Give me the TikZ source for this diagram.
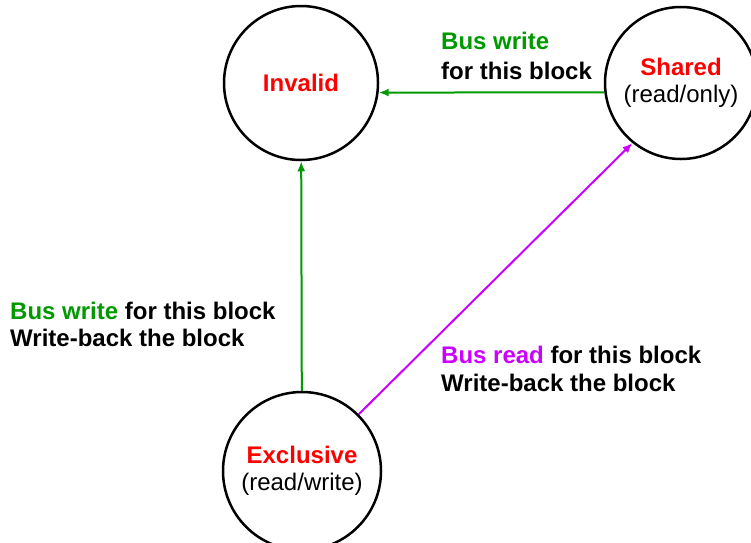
\documentclass[tikz,border=0pt]{standalone}
\usepackage{fontspec}
\setmainfont{Liberation Sans}
\usetikzlibrary{positioning, arrows.meta}

\definecolor{buswrite}{HTML}{009900}
\definecolor{busread}{HTML}{CC00FF}

\begin{document}
\begin{tikzpicture}[
        x = 1pt, y = -1pt,
        state/.style      = {draw, circle, line width=2.5pt, inner sep=0pt, align=center},
        trans/.style      = {line width=2pt, -{Latex[length=10pt, width=8pt]}},
        translabel/.style = {anchor=north west, inner sep=0pt, align=left,
                             font=\fontsize{24}{#1}\selectfont\bfseries},
        translabel/.default = 27,
        every node/.style = {font=\fontsize{24}{27}\selectfont},
    ]
    \useasboundingbox (0,0) rectangle (751,542);

    % states
    \node [state, minimum size=154pt] (invalid) at (301,83)
        {\textcolor{red}{\bfseries Invalid}};
    \node [state, minimum size=152pt] (shared) at (681,83)
        {\textcolor{red}{\bfseries Shared}\\(read/only)};
    \node [state, minimum size=158pt] (exclusive) at (302,471)
        {\textcolor{red}{\bfseries Exclusive}\\(read/write)};

    % transitions
    \draw [trans, buswrite] (shared.187) -- (invalid.-7);
    \draw [trans, buswrite] (exclusive) -- (invalid);
    \draw [trans, busread] (exclusive.45) -- (shared.231);

    % labels
    \node [translabel=30] (lblshared) at (441,32)
        {\textcolor{buswrite}{Bus write}\\for this block};
    \node [translabel] (lblexcl) at (10,302)
        {\textcolor{buswrite}{Bus write} for this block\\Write-back the block};
    \node [translabel=28] (lblread) at (441,346)
        {\textcolor{busread}{Bus read} for this block\\Write-back the block};
\end{tikzpicture}
\end{document}
